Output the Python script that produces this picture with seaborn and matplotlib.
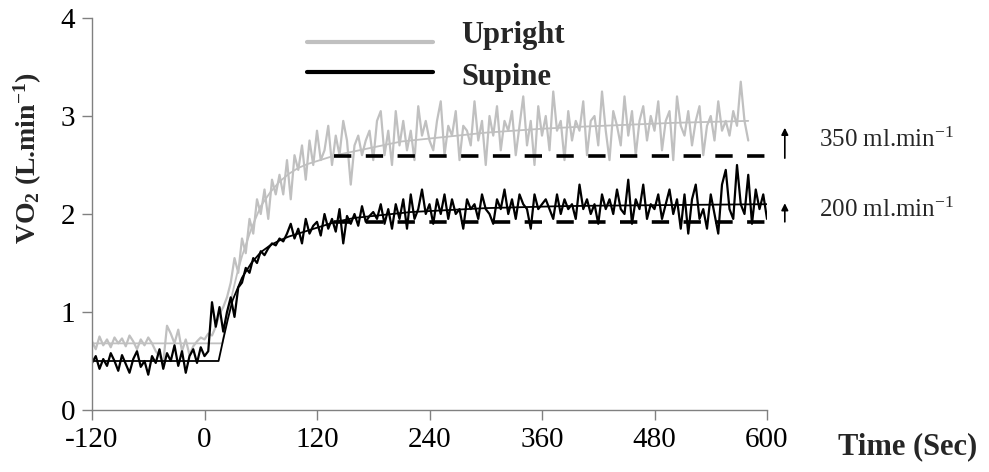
import numpy as np
import pandas as pd
import matplotlib
matplotlib.use("Agg")
import matplotlib.pyplot as plt
from matplotlib.lines import Line2D
import seaborn as sns

# breath data, 4 s bins
upright_time = np.arange(-120, 581, 4)
upright_vo2 = [
    0.70, 0.62, 0.75, 0.66, 0.72, 0.64, 0.74, 0.68, 0.73, 0.65,
    0.76, 0.70, 0.62, 0.72, 0.66, 0.74, 0.68, 0.60, 0.55, 0.48,
    0.86, 0.78, 0.68, 0.82, 0.60, 0.72, 0.56, 0.65, 0.70, 0.74,
    0.72, 0.78, 0.76, 0.85, 0.98, 1.05, 1.15, 1.30, 1.55, 1.40,
    1.75, 1.60, 1.95, 1.80, 2.15, 2.00, 2.25, 1.95, 2.35, 2.20,
    2.40, 2.20, 2.55, 2.15, 2.60, 2.45, 2.70, 2.35, 2.75, 2.50,
    2.85, 2.55, 2.65, 2.90, 2.50, 2.80, 2.60, 2.95, 2.75, 2.30,
    2.70, 2.80, 2.60, 2.75, 2.85, 2.55, 2.95, 3.05, 2.60, 2.85,
    2.50, 3.05, 2.70, 2.95, 2.65, 2.85, 2.55, 3.10, 2.80, 2.95,
    2.75, 2.65, 2.95, 3.15, 2.60, 2.90, 2.80, 3.05, 2.55, 2.90,
    2.85, 2.70, 3.15, 2.75, 2.95, 2.50, 3.00, 2.80, 3.10, 2.65,
    2.95, 2.85, 3.05, 2.60, 2.90, 3.20, 2.70, 2.95, 2.50, 3.10,
    2.80, 3.00, 2.65, 3.25, 2.85, 2.95, 2.55, 3.05, 2.75, 2.95,
    2.85, 3.15, 2.60, 2.95, 3.00, 2.70, 3.25, 2.85, 2.55, 3.05,
    2.90, 2.70, 3.20, 2.80, 3.05, 2.60, 2.95, 3.10, 2.75, 3.00,
    2.85, 3.15, 2.65, 2.95, 3.05, 2.55, 3.20, 2.90, 2.80, 3.05,
    2.70, 2.95, 3.10, 2.60, 2.90, 3.00, 2.75, 3.15, 2.85, 2.95,
    2.80, 3.05, 2.90, 3.35, 2.95, 2.75,
]

supine_time = np.arange(-120, 601, 4)
supine_vo2 = [
    0.48, 0.55, 0.42, 0.52, 0.45, 0.58, 0.50, 0.40, 0.56, 0.47,
    0.38, 0.52, 0.60, 0.44, 0.50, 0.36, 0.55, 0.48, 0.62, 0.42,
    0.58, 0.50, 0.66, 0.45, 0.60, 0.38, 0.55, 0.62, 0.48, 0.64,
    0.55, 0.60, 1.10, 0.85, 1.05, 0.80, 1.00, 1.15, 0.95, 1.25,
    1.30, 1.45, 1.40, 1.55, 1.50, 1.62, 1.58, 1.65, 1.70, 1.68,
    1.75, 1.72, 1.80, 1.90, 1.75, 1.85, 1.70, 1.95, 1.80, 1.88,
    1.92, 1.78, 2.00, 1.85, 1.95, 1.82, 2.05, 1.70, 1.98, 1.90,
    2.00, 1.88, 2.08, 1.92, 1.98, 2.02, 1.95, 2.10, 1.90, 2.05,
    1.85, 2.10, 1.95, 2.15, 1.85, 2.20, 1.95, 2.05, 2.25, 2.00,
    2.10, 1.90, 2.15, 2.00, 2.20, 1.95, 2.15, 2.00, 2.05, 1.85,
    2.15, 2.05, 2.10, 1.95, 2.20, 2.05, 2.00, 1.90, 2.15, 2.05,
    2.25, 2.00, 2.15, 1.95, 2.20, 2.10, 2.05, 1.85, 2.20, 2.05,
    2.10, 2.15, 2.05, 1.95, 2.20, 2.00, 2.15, 2.05, 2.10, 1.95,
    2.30, 2.05, 2.15, 2.00, 2.10, 1.90, 2.20, 2.05, 2.15, 2.00,
    2.25, 2.05, 2.00, 2.35, 1.90, 2.15, 2.05, 2.30, 1.95, 2.10,
    2.05, 2.20, 1.95, 2.10, 2.25, 2.00, 2.15, 1.85, 2.20, 1.80,
    2.15, 2.30, 1.95, 2.05, 1.85, 2.20, 2.00, 1.80, 2.30, 2.45,
    2.05, 1.95, 2.50, 2.10, 2.00, 2.40, 1.90, 2.25, 2.05, 2.20,
    1.95,
]

# model fits
upright_fit_time = [-120, 0, 19, 25, 30, 35, 40, 50, 60, 70, 80, 90, 100, 110, 120,
                    130, 140, 150, 160, 170, 180, 190, 200, 210, 220, 240, 260,
                    280, 300, 330, 360, 400, 450, 500, 580]
upright_fit = [0.68, 0.68, 0.68, 0.98, 1.20, 1.40, 1.57, 1.85, 2.08, 2.22, 2.33,
               2.41, 2.47, 2.51, 2.54, 2.57, 2.60, 2.62, 2.64, 2.66, 2.68, 2.70,
               2.72, 2.74, 2.75, 2.77, 2.79, 2.81, 2.83, 2.85, 2.87, 2.89, 2.91,
               2.93, 2.95]

supine_fit_time = [-120, 0, 15, 20, 25, 30, 40, 50, 60, 70, 80, 90, 100, 110, 120,
                   130, 140, 150, 160, 170, 180, 190, 200, 210, 220, 240, 260,
                   280, 300, 340, 380, 420, 480, 540, 600]
supine_fit = [0.50, 0.50, 0.50, 0.72, 0.93, 1.12, 1.35, 1.50, 1.61, 1.68, 1.73,
              1.77, 1.80, 1.83, 1.86, 1.89, 1.92, 1.94, 1.96, 1.97, 1.98, 1.99,
              2.00, 2.01, 2.02, 2.03, 2.04, 2.05, 2.06, 2.07, 2.08, 2.085, 2.09,
              2.095, 2.10]

# steady-state reference levels and annotations
ref_start, ref_end = 138, 600
upright_ref = 2.59
supine_ref = 1.92
ann_labels = ["350 ml.min$^{-1}$", "200 ml.min$^{-1}$"]
ann_bottom = [2.57, 1.92]
ann_top = [2.88, 2.11]

sns.set_style("ticks")
plt.rcParams["font.family"] = ["Liberation Serif", "DejaVu Serif"]
plt.rcParams["axes.unicode_minus"] = False
plt.rcParams["mathtext.fontset"] = "custom"
plt.rcParams["mathtext.rm"] = "Liberation Serif"
plt.rcParams["mathtext.bf"] = "Liberation Serif:bold"
plt.rcParams["mathtext.it"] = "Liberation Serif:italic"

W, H = 989, 472
fig = plt.figure(figsize=(W / 100, H / 100), dpi=100)
ax = fig.add_axes([92 / W, 62 / H, 675 / W, 392 / H])

grey = "#c0c0c0"
up_df = pd.DataFrame({"t": upright_time, "vo2": upright_vo2})
sup_df = pd.DataFrame({"t": supine_time, "vo2": supine_vo2})

sns.lineplot(data=up_df, x="t", y="vo2", ax=ax, color=grey, lw=1.6)
sns.lineplot(x=upright_fit_time, y=upright_fit, ax=ax, color=grey, lw=1.3)
sns.lineplot(data=sup_df, x="t", y="vo2", ax=ax, color="black", lw=1.6)
sns.lineplot(x=supine_fit_time, y=supine_fit, ax=ax, color="black", lw=1.3)

for lvl in (upright_ref, supine_ref):
    ax.plot([ref_start, ref_end], [lvl, lvl], color="black", lw=2.6,
            linestyle=(0, (4.8, 4.0)), solid_capstyle="butt")

for lab, lo, hi in zip(ann_labels, ann_bottom, ann_top):
    ax.annotate("", xy=(619, hi), xytext=(619, lo), annotation_clip=False,
                arrowprops=dict(arrowstyle="-|>", color="black", lw=1.2,
                                mutation_scale=10, shrinkA=0, shrinkB=0))
    ax.text(655, (lo + hi) / 2 + 0.03, lab, fontsize=18, va="center", ha="left",
            clip_on=False)

ax.set_xlim(-120, 600)
ax.set_ylim(0, 4)
ax.set_xticks([-120, 0, 120, 240, 360, 480, 600])
ax.set_yticks([0, 1, 2, 3, 4])
ax.tick_params(direction="out", length=7, width=1, colors="#808080",
               labelcolor="black", labelsize=21, pad=5)
for s in ["left", "bottom"]:
    ax.spines[s].set_color("#808080")
    ax.spines[s].set_linewidth(1)
sns.despine(ax=ax)

ax.set_xlabel("")
ax.set_ylabel(r"VO$_\mathbf{2}$ (L.min$^\mathbf{-1}$)", fontsize=20, fontweight="bold")
ax.yaxis.set_label_coords(-0.071, 0.643)
fig.text(977 / W, 1 - 447 / H, "Time (Sec)", fontsize=22, fontweight="bold",
         ha="right", va="center")

# legend drawn as in the original: key lines and labels placed separately
legend_labels = ["Upright", "Supine"]
legend_colors = [grey, "black"]
line_y = [42, 72]
text_base = [43, 85]
for lab, col, ly, ty in zip(legend_labels, legend_colors, line_y, text_base):
    fig.add_artist(Line2D([307 / W, 433 / W], [1 - ly / H, 1 - ly / H],
                          transform=fig.transFigure, color=col, lw=3))
    fig.text(461 / W, 1 - ty / H, lab, fontsize=22, fontweight="bold",
             ha="left", va="baseline")

fig.savefig("out.png", dpi=100)
